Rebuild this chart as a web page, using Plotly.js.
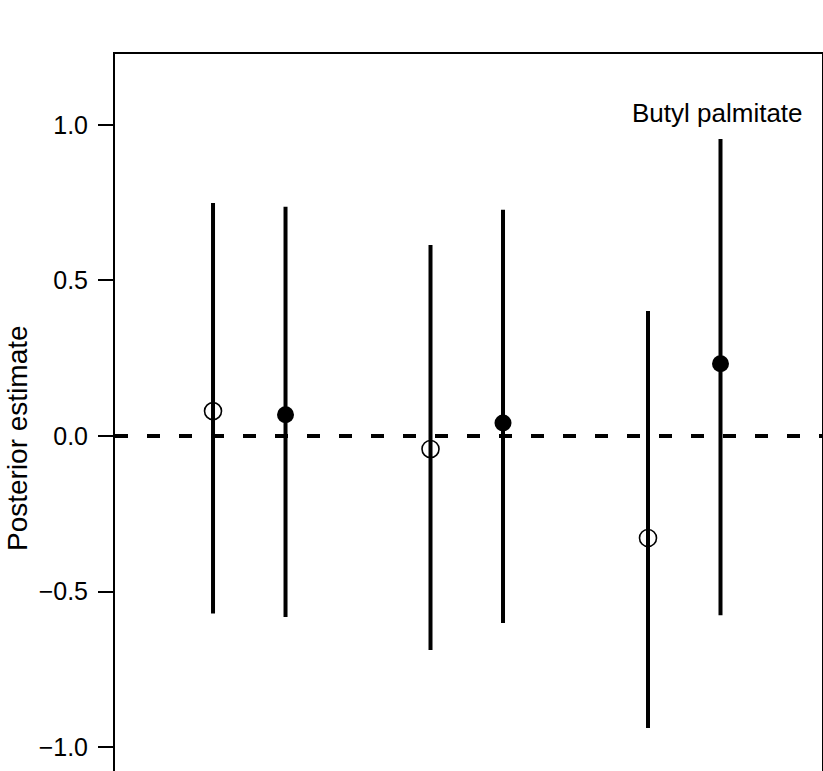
<!DOCTYPE html>
<html>
<head>
<meta charset="utf-8">
<script src="https://cdn.plot.ly/plotly-3.0.1.min.js"></script>
<style>html,body{margin:0;padding:0;background:#fff;overflow:hidden;}</style>
</head>
<body>
<div id="chart" style="width:823px;height:771px;"></div>
<script>
// Data
const xPos      = [1, 2, 4, 5, 7, 8];
const estimate  = [0.080, 0.068, -0.042, 0.042, -0.328, 0.232];
const lower     = [-0.571, -0.582, -0.688, -0.601, -0.939, -0.576];
const upper     = [0.749, 0.737, 0.614, 0.727, 0.402, 0.955];
const filled    = [false, true, false, true, false, true];
const yTicks    = [-1.0, -0.5, 0.0, 0.5, 1.0];
const panelLabel = "Butyl palmitate";
const yTitle    = "Posterior estimate";

const FONT = "Liberation Sans, Arial, Helvetica, sans-serif";

function subset(flag) {
  const idx = xPos.map((_, i) => i).filter(i => filled[i] === flag);
  return {
    x: idx.map(i => xPos[i]),
    y: idx.map(i => estimate[i]),
    up: idx.map(i => upper[i] - estimate[i]),
    dn: idx.map(i => estimate[i] - lower[i])
  };
}

const open = subset(false);
const full = subset(true);

const traces = [
  {
    type: 'scatter', mode: 'markers', x: open.x, y: open.y,
    error_y: {type: 'data', symmetric: false, array: open.up, arrayminus: open.dn,
              thickness: 4, width: 0, color: '#000'},
    marker: {symbol: 'circle-open', size: 17, color: '#000', line: {width: 1.6, color: '#000'}},
    hoverinfo: 'skip', showlegend: false
  },
  {
    type: 'scatter', mode: 'markers', x: full.x, y: full.y,
    error_y: {type: 'data', symmetric: false, array: full.up, arrayminus: full.dn,
              thickness: 4, width: 0, color: '#000'},
    marker: {symbol: 'circle', size: 17, color: '#000'},
    hoverinfo: 'skip', showlegend: false
  }
];

const layout = {
  width: 823, height: 771,
  margin: {l: 115, r: 1, t: 54, b: 0, pad: 0},
  paper_bgcolor: '#fff', plot_bgcolor: '#fff',
  font: {family: FONT, size: 25, color: '#000'},
  showlegend: false,
  xaxis: {
    range: [-0.352, 9.40], side: 'top',
    showline: true, linewidth: 2, linecolor: '#000',
    showgrid: false, zeroline: false, showticklabels: false, ticks: ''
  },
  yaxis: {
    range: [-1.077, 1.228],
    showline: true, mirror: true, linewidth: 2, linecolor: '#000',
    showgrid: false, zeroline: false,
    tickmode: 'array', tickvals: yTicks, tickformat: '.1f',
    ticks: 'outside', ticklen: 15, tickwidth: 2, tickcolor: '#000',
    ticklabelstandoff: 5,
    tickfont: {family: FONT, size: 25, color: '#000'}
  },
  shapes: [{
    type: 'line', xref: 'paper', yref: 'y', x0: 0, x1: 1, y0: 0, y1: 0,
    line: {color: '#000', width: 4, dash: '13px,19px'}, layer: 'above'
  }],
  annotations: [
    {
      text: panelLabel, xref: 'paper', yref: 'paper', x: 0.976, y: 0.918,
      xanchor: 'right', yanchor: 'middle', showarrow: false,
      font: {family: FONT, size: 26, color: '#000'}
    },
    {
      text: yTitle, xref: 'paper', yref: 'paper', x: 0, y: 0.4644,
      xanchor: 'center', yanchor: 'middle', xshift: -98, textangle: -90,
      showarrow: false,
      font: {family: FONT, size: 28, color: '#000'}
    }
  ]
};

Plotly.newPlot('chart', traces, layout, {staticPlot: true, displayModeBar: false});
</script>
</body>
</html>
